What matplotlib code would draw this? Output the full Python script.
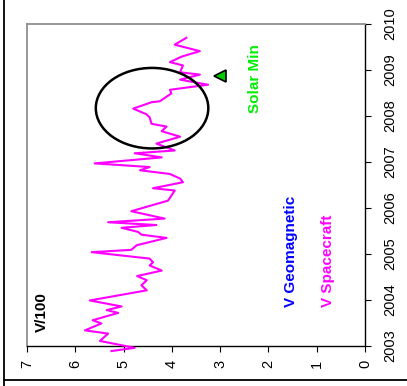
import matplotlib
matplotlib.use("Agg")
import matplotlib.pyplot as plt
from matplotlib.patches import Ellipse
from matplotlib.lines import Line2D

plt.rcParams['font.family'] = ['Liberation Sans', 'DejaVu Sans']

# Spacecraft solar wind speed (V/100) vs time
years = [2002.89, 2002.96, 2003.11, 2003.27, 2003.34, 2003.49, 2003.56, 2003.72,
         2003.78, 2003.86, 2003.99, 2004.21, 2004.32, 2004.43, 2004.52, 2004.64,
         2004.75, 2004.82, 2004.90, 2005.04, 2005.09, 2005.19, 2005.35, 2005.42,
         2005.48, 2005.57, 2005.63, 2005.69, 2005.77, 2005.93, 2006.16, 2006.38,
         2006.43, 2006.56, 2006.64, 2006.74, 2006.82, 2006.89, 2006.97, 2007.10,
         2007.19, 2007.25, 2007.40, 2007.55, 2007.67, 2007.77, 2007.83, 2007.97,
         2008.04, 2008.16, 2008.30, 2008.32, 2008.49, 2008.57, 2008.68, 2008.79,
         2008.90, 2008.95, 2009.10, 2009.17, 2009.29, 2009.41, 2009.55, 2009.70]
v_spacecraft = [5.25, 4.77, 5.49, 5.32, 5.80, 5.46, 5.64, 5.11,
                5.35, 5.04, 5.70, 4.52, 4.63, 4.52, 4.72, 4.21,
                4.46, 4.39, 4.46, 5.66, 4.84, 4.73, 4.11, 4.63,
                4.70, 5.04, 4.32, 5.32, 4.15, 4.84, 4.08, 3.94,
                4.39, 3.77, 3.83, 4.04, 4.66, 4.46, 5.60, 4.21,
                4.77, 3.94, 4.32, 3.83, 4.21, 4.11, 4.42, 4.46,
                4.53, 4.80, 4.42, 4.25, 4.01, 4.04, 3.25, 3.83,
                3.42, 3.83, 3.77, 4.04, 3.80, 3.42, 3.94, 3.70]

solar_min_year = 2008.88
solar_min_v = 3.0

year_ticks = list(range(2003, 2011))
v_ticks = list(range(0, 8))

fig = plt.figure(figsize=(4.07, 3.86), dpi=100)
ax = fig.add_axes([27 / 407, 1 - 346 / 386, 338 / 407, 322 / 386])

ax.plot(v_spacecraft, years, color='#FF00FF', lw=1.5, clip_on=False, zorder=3)

# circle around the solar minimum period
ax.add_patch(Ellipse((4.41, 2008.17), 2.33, 1.75, fill=False, ec='black', lw=1.8, zorder=4))

ax.plot([solar_min_v], [solar_min_year], marker='<', ms=9, color='#00CC00',
        mec='black', mew=1.2, ls='none', zorder=5)

ax.set_xlim(7, 0)
ax.set_ylim(2003, 2010)
ax.set_xticks(v_ticks)
ax.set_yticks(year_ticks)
ax.yaxis.tick_right()
ax.tick_params(axis='x', direction='out', length=4, pad=6, labelsize=10.5, labelrotation=90)
ax.tick_params(axis='y', direction='out', length=4, pad=9, labelsize=10.5, labelrotation=90)
for lab in ax.get_yticklabels():
    lab.set_va('center')

for side in ['left', 'top']:
    ax.spines[side].set_color('#909090')
    ax.spines[side].set_linewidth(1.3)
for side in ['right', 'bottom']:
    ax.spines[side].set_color('black')
    ax.spines[side].set_linewidth(1.0)

txt = dict(rotation=90, rotation_mode='anchor', ha='left', va='center', fontweight='bold', fontsize=11)
ax.text(6.69, 2003.30, 'V/100', color='black', **txt)
ax.text(1.54, 2003.84, 'V Geomagnetic', color='#0000FF', **txt)
ax.text(0.77, 2003.84, 'V Spacecraft', color='#FF00FF', **txt)
ax.text(2.28, 2008.07, 'Solar Min', color='#00EE00', **txt)

# outer frame
fig.add_artist(Line2D([4 / 407, 4 / 407], [0, 1], transform=fig.transFigure, color='black', lw=1.3))
fig.add_artist(Line2D([4 / 407, 1], [1 - 380 / 386, 1 - 380 / 386], transform=fig.transFigure, color='black', lw=1.3))

fig.savefig('out.png', dpi=100)
